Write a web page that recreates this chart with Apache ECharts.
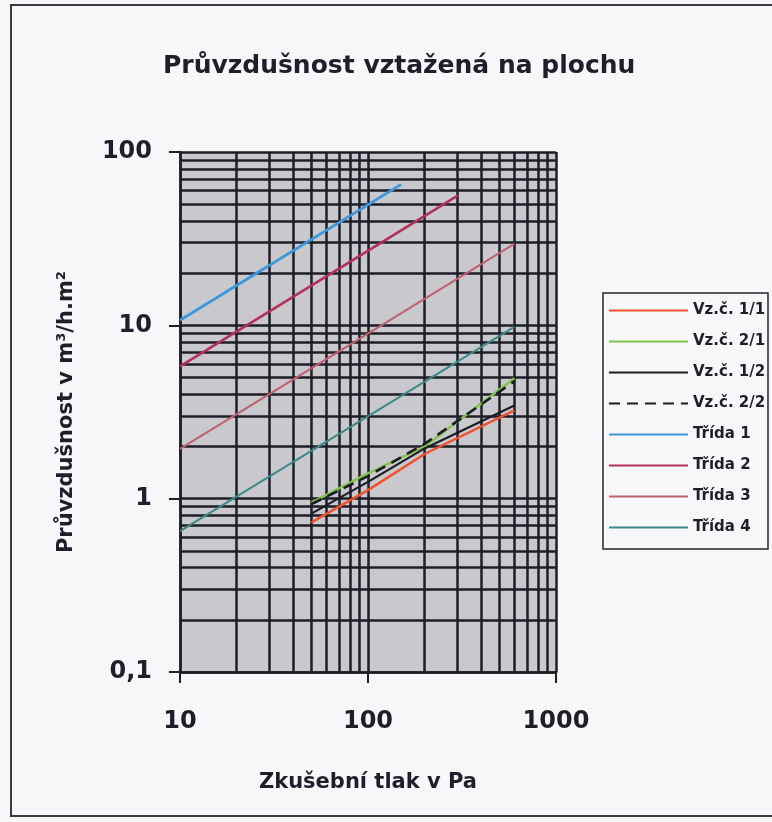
<!DOCTYPE html>
<html>
<head>
<meta charset="utf-8">
<title>Průvzdušnost vztažená na plochu</title>
<script src="https://cdn.jsdelivr.net/npm/echarts@6/dist/echarts.min.js"></script>
<style>
html,body{margin:0;padding:0;background:#f7f7fa;}
#chart{width:772px;height:822px;}
</style>
</head>
<body>
<div id="chart"></div>
<script>
// minor grid values (log paper)
var xMinor = [20,30,40,50,60,70,80,90,200,300,400,500,600,700,800,900];
var yMinor = [0.2,0.3,0.4,0.5,0.6,0.7,0.8,0.9,2,3,4,5,6,7,8,9,20,30,40,50,60,70,80,90];

// measured samples [Pa, m3/h.m2]
var vz11 = [[50,0.73],[100,1.12],[200,1.81],[600,3.23]];
var vz21 = [[50,0.95],[100,1.4],[200,2.0],[600,4.95]];
var vz12 = [[50,0.82],[100,1.25],[200,1.95],[600,3.45]];
var vz22 = [[50,0.93],[100,1.35],[200,2.07],[600,4.75]];
// classes
var trida1 = [[10,10.7],[150,65]];
var trida2 = [[10,5.8],[300,56]];
var trida3 = [[10,1.94],[600,29.5]];
var trida4 = [[10,0.65],[600,9.8]];

var font = 'DejaVu Sans';
var gridCol = '#1e1e26';
var textCol = '#1f1f2c';

function fmt(v){
    return (Math.round(v*100)/100).toString().replace('.', ',');
}
function line(name, data, color, width, type){
    return {
        name: name, type: 'line', data: data, symbol: 'none', z: 3,
        lineStyle: {color: color, width: width, type: type || 'solid'},
        itemStyle: {color: color},
        animation: false
    };
}

var myChart = echarts.init(document.getElementById('chart'));

var gridLines = [];
xMinor.forEach(function(v){ gridLines.push({xAxis: v}); });
yMinor.forEach(function(v){ gridLines.push({yAxis: v}); });

myChart.setOption({
    backgroundColor: '#f7f7fa',
    animation: false,
    title: {
        text: 'Průvzdušnost vztažená na plochu',
        left: 158, top: 49,
        textStyle: {fontFamily: font, fontWeight: 'bold', fontSize: 25, color: textCol}
    },
    grid: {
        left: 180, right: 216, top: 152, bottom: 150,
        show: true, backgroundColor: '#c8c8cd', borderWidth: 0
    },
    legend: {
        orient: 'vertical', left: 608, top: 303, padding: 0,
        itemWidth: 79, itemHeight: 14, itemGap: 16,
        itemStyle: {opacity: 0},
        textStyle: {fontFamily: font, fontWeight: 'bold', fontSize: 15, color: textCol},
        data: ['Vz.č. 1/1','Vz.č. 2/1','Vz.č. 1/2','Vz.č. 2/2','Třída 1','Třída 2','Třída 3','Třída 4']
    },
    xAxis: {
        type: 'log', min: 10, max: 1000,
        name: 'Zkušební tlak v Pa', nameLocation: 'middle', nameGap: 100,
        nameTextStyle: {fontFamily: font, fontWeight: 'bold', fontSize: 21, color: textCol},
        axisLine: {lineStyle: {color: gridCol, width: 2.5}},
        axisTick: {length: 11, lineStyle: {color: gridCol, width: 2}},
        axisLabel: {margin: 38, formatter: fmt, fontFamily: font, fontWeight: 'bold', fontSize: 24, color: textCol},
        splitLine: {show: true, lineStyle: {color: gridCol, width: 2.5}},
        minorTick: {show: false}
    },
    yAxis: {
        type: 'log', min: 0.1, max: 100,
        name: 'Průvzdušnost v m³/h.m²', nameLocation: 'middle', nameGap: 103,
        nameTextStyle: {fontFamily: font, fontWeight: 'bold', fontSize: 21, color: textCol},
        axisLine: {lineStyle: {color: gridCol, width: 2.5}},
        axisTick: {length: 11, lineStyle: {color: gridCol, width: 2}},
        axisLabel: {margin: 28, formatter: fmt, fontFamily: font, fontWeight: 'bold', fontSize: 24, color: textCol},
        splitLine: {show: true, lineStyle: {color: gridCol, width: 2.5}}
    },
    graphic: [
        {type: 'rect', shape: {x: 11, y: 5, width: 820, height: 811}, z: 0,
         style: {fill: 'none', stroke: '#3a3a44', lineWidth: 2}},
        {type: 'rect', shape: {x: 603, y: 293, width: 165, height: 256}, z: 0,
         style: {fill: 'none', stroke: '#23232d', lineWidth: 1.5}}
    ],
    series: [
        {
            name: 'grid', type: 'line', data: [], z: 1, silent: true,
            markLine: {
                silent: true, symbol: 'none', z: 1, animation: false,
                label: {show: false},
                lineStyle: {color: gridCol, width: 2.5, type: 'solid'},
                data: gridLines
            }
        },
        line('Vz.č. 1/1', vz11, '#f0502c', 2.4),
        line('Vz.č. 2/1', vz21, '#84c24c', 2.4),
        line('Vz.č. 1/2', vz12, '#1c1c24', 2.2),
        line('Vz.č. 2/2', vz22, '#1c1c24', 2.6, [11, 7]),
        line('Třída 1', trida1, '#3c98dc', 2.8),
        line('Třída 2', trida2, '#b4305c', 2.6),
        line('Třída 3', trida3, '#c0606c', 2),
        line('Třída 4', trida4, '#3a8a8c', 2)
    ]
});
</script>
</body>
</html>
